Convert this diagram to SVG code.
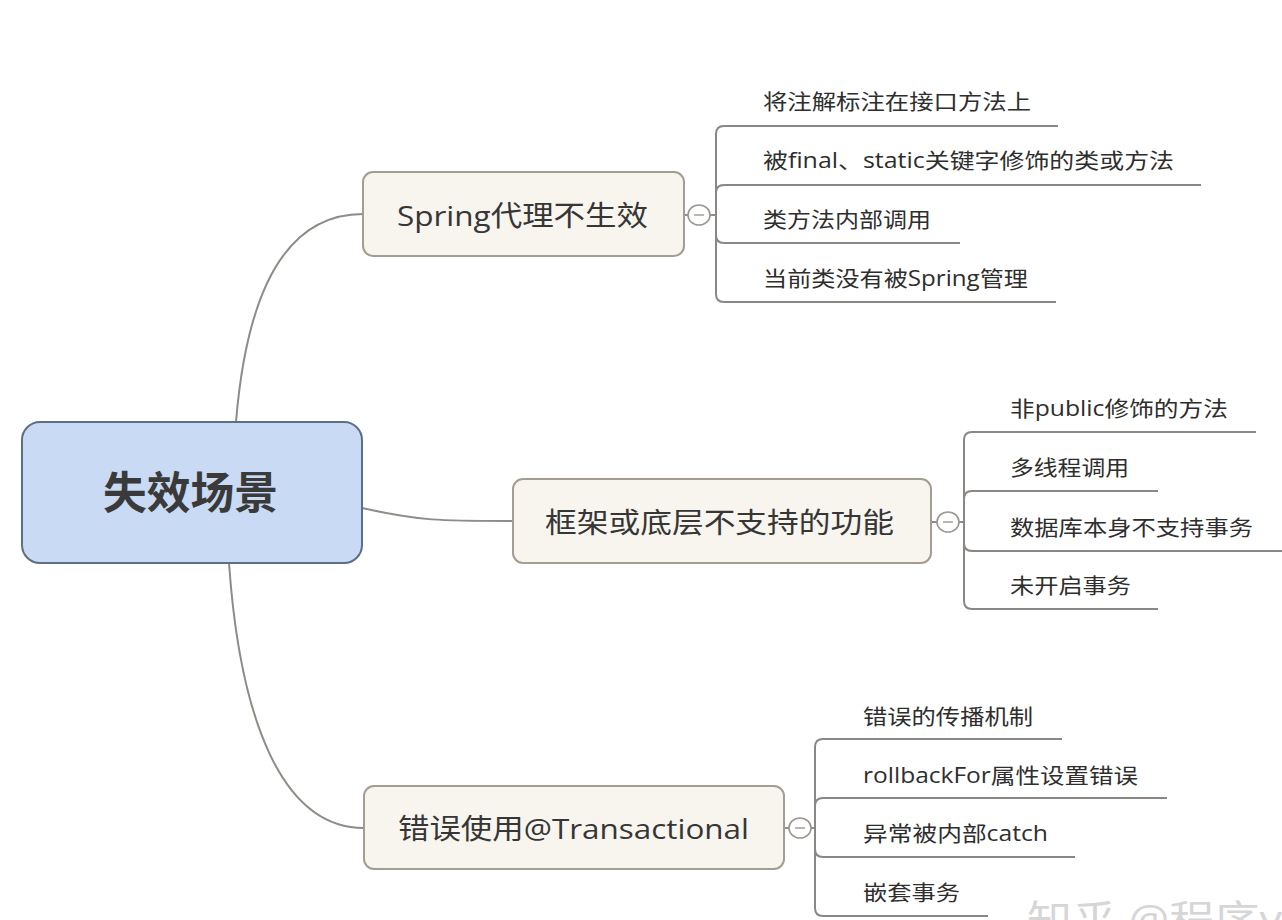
<svg xmlns="http://www.w3.org/2000/svg" width="1282" height="920" viewBox="0 0 1282 920">
<style>
.bg{fill:#ffffff}
.conn{fill:none;stroke:#8f8b86;stroke-width:2}
.leafline{fill:none;stroke:#8a8784;stroke-width:2}
.root{fill:#c9daf4;stroke:#5d6e89;stroke-width:2}
.branch{fill:#f8f4ee;stroke:#a39d94;stroke-width:2}
.toggle{fill:#ffffff;stroke:#9a9792;stroke-width:1.6}
.minus{stroke:#9a9792;stroke-width:1.4}
text{font-family:"Open Sans","Noto Sans CJK SC",sans-serif;fill:#363636}
.rt{font-size:44px;font-weight:bold;fill:#3a3a3a}
.bt{font-size:28px}
.lt{font-size:21px;fill:#2e2e2e}
.wm{font-size:40px;fill:#d6d6d6}
</style>
<rect class="bg" x="0" y="0" width="1282" height="920"/>
<g id="connectors">
<path class="conn" d="M236,422 C246,300 282,214 363,214"/>
<path class="conn" d="M362,508 C420,521 440,521 513,521"/>
<path class="conn" d="M229,563 C240,720 282,828 364,828"/>
<path class="conn" d="M684,215 H688 M710,215 H716"/>
<path class="conn" d="M931,522 H937 M959,522 H964"/>
<path class="conn" d="M783,828 H789 M811,828 H815"/>
<path class="leafline" d="M716,215 V134 Q716,126 724,126 H1058"/>
<path class="leafline" d="M716,215 V193 Q716,185 724,185 H1201"/>
<path class="leafline" d="M716,215 V235 Q716,243 724,243 H960"/>
<path class="leafline" d="M716,215 V294 Q716,302 724,302 H1056"/>
<path class="leafline" d="M964,522 V440 Q964,432 972,432 H1256"/>
<path class="leafline" d="M964,522 V499 Q964,491 972,491 H1158"/>
<path class="leafline" d="M964,522 V543 Q964,551 972,551 H1282"/>
<path class="leafline" d="M964,522 V601 Q964,609 972,609 H1158"/>
<path class="leafline" d="M815,828 V747 Q815,739 823,739 H1062"/>
<path class="leafline" d="M815,828 V806 Q815,798 823,798 H1167"/>
<path class="leafline" d="M815,828 V849 Q815,857 823,857 H1075"/>
<path class="leafline" d="M815,828 V908 Q815,916 823,916 H988"/>
</g>
<g id="root">
<rect class="root" x="22" y="422" width="340" height="141" rx="18"/>
<text class="rt" x="103" y="509" textLength="175" lengthAdjust="spacingAndGlyphs">失效场景</text>
</g>
<g id="branch1">
<rect class="branch" x="363" y="172" width="321" height="84" rx="10"/>
<text class="bt" x="397" y="226" textLength="251" lengthAdjust="spacingAndGlyphs">Spring代理不生效</text>
<ellipse class="toggle" cx="699" cy="215" rx="11" ry="10"/>
<line class="minus" x1="694" y1="215" x2="704" y2="215"/>
</g>
<g id="branch2">
<rect class="branch" x="513" y="479" width="418" height="84" rx="10"/>
<text class="bt" x="545" y="533" textLength="349" lengthAdjust="spacingAndGlyphs">框架或底层不支持的功能</text>
<ellipse class="toggle" cx="948" cy="522" rx="11" ry="10"/>
<line class="minus" x1="943" y1="522" x2="953" y2="522"/>
</g>
<g id="branch3">
<rect class="branch" x="364" y="786" width="420" height="83" rx="10"/>
<text class="bt" x="398" y="839" textLength="351" lengthAdjust="spacingAndGlyphs">错误使用@Transactional</text>
<ellipse class="toggle" cx="800" cy="828" rx="11" ry="10"/>
<line class="minus" x1="795" y1="828" x2="805" y2="828"/>
</g>
<g id="leaf1-1"><text class="lt" x="763" y="109" textLength="268" lengthAdjust="spacingAndGlyphs">将注解标注在接口方法上</text></g>
<g id="leaf1-2"><text class="lt" x="763" y="168" textLength="411" lengthAdjust="spacingAndGlyphs">被final、static关键字修饰的类或方法</text></g>
<g id="leaf1-3"><text class="lt" x="763" y="227" textLength="168" lengthAdjust="spacingAndGlyphs">类方法内部调用</text></g>
<g id="leaf1-4"><text class="lt" x="763" y="286" textLength="265" lengthAdjust="spacingAndGlyphs">当前类没有被Spring管理</text></g>
<g id="leaf2-1"><text class="lt" x="1010" y="416" textLength="218" lengthAdjust="spacingAndGlyphs">非public修饰的方法</text></g>
<g id="leaf2-2"><text class="lt" x="1010" y="475" textLength="119" lengthAdjust="spacingAndGlyphs">多线程调用</text></g>
<g id="leaf2-3"><text class="lt" x="1010" y="535" textLength="243" lengthAdjust="spacingAndGlyphs">数据库本身不支持事务</text></g>
<g id="leaf2-4"><text class="lt" x="1010" y="593" textLength="121" lengthAdjust="spacingAndGlyphs">未开启事务</text></g>
<g id="leaf3-1"><text class="lt" x="863" y="724" textLength="170" lengthAdjust="spacingAndGlyphs">错误的传播机制</text></g>
<g id="leaf3-2"><text class="lt" x="863" y="783" textLength="275" lengthAdjust="spacingAndGlyphs">rollbackFor属性设置错误</text></g>
<g id="leaf3-3"><text class="lt" x="863" y="841" textLength="185" lengthAdjust="spacingAndGlyphs">异常被内部catch</text></g>
<g id="leaf3-4"><text class="lt" x="863" y="900" textLength="97" lengthAdjust="spacingAndGlyphs">嵌套事务</text></g>
<text class="wm" x="1027" y="934" textLength="255" lengthAdjust="spacingAndGlyphs">知乎 @程序y</text>
</svg>
